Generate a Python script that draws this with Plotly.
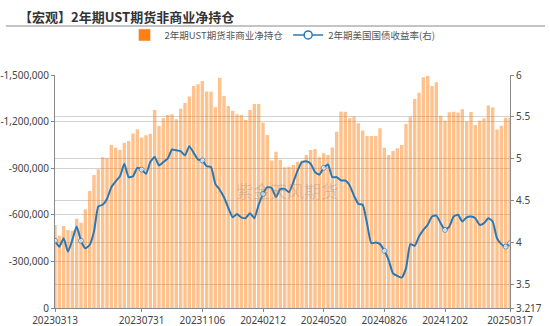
import pandas as pd
import plotly.graph_objects as go

# weekly report dates (categories)
dates = pd.date_range("2023-03-13", periods=106, freq="7D").strftime("%Y%m%d").tolist()

# 2-year UST futures non-commercial net position (contracts)
net_position = [
    -534000, -466000, -528000, -502000, -498000, -575000, -549000, -635000, -753000, -856000,
    -893000, -970000, -964000, -1049000, -1032000, -1017000, -1064000, -1075000, -1124000, -1150000,
    -1097000, -1112000, -1122000, -1275000, -1172000, -1221000, -1243000, -1247000, -1215000, -1283000,
    -1320000, -1361000, -1429000, -1440000, -1461000, -1393000, -1393000, -1292000, -1483000, -1365000,
    -1300000, -1270000, -1247000, -1243000, -1210000, -1275000, -1313000, -1313000, -1193000, -1114000,
    -949000, -1006000, -955000, -906000, -910000, -921000, -942000, -949000, -985000, -1017000,
    -1024000, -970000, -996000, -985000, -1034000, -1135000, -1264000, -1264000, -1221000, -1232000,
    -1189000, -1142000, -1107000, -1107000, -1107000, -1157000, -1032000, -985000, -1011000, -1028000,
    -1049000, -1185000, -1232000, -1346000, -1386000, -1485000, -1494000, -1429000, -1453000, -1238000,
    -1206000, -1260000, -1264000, -1258000, -1279000, -1200000, -1262000, -1178000, -1206000, -1221000,
    -1303000, -1290000, -1150000, -1174000, -1225000, -1225000,
]

# 2-year US Treasury yield (%)
yield_2y = [
    4.02, 3.95, 4.05, 3.89, 4.03, 4.19, 4.02, 3.93, 3.97, 4.13,
    4.43, 4.45, 4.52, 4.66, 4.73, 4.79, 4.94, 4.78, 4.79, 4.89,
    4.87, 4.82, 4.96, 5.02, 4.92, 4.96, 5.00, 5.11, 5.10, 5.09,
    5.04, 5.15, 5.07, 4.99, 4.98, 4.91, 4.90, 4.70, 4.63, 4.54,
    4.41, 4.30, 4.34, 4.30, 4.29, 4.35, 4.29, 4.45, 4.58, 4.66,
    4.65, 4.54, 4.64, 4.64, 4.60, 4.72, 4.86, 4.96, 4.97, 4.94,
    4.84, 4.81, 4.89, 4.93, 4.78, 4.78, 4.74, 4.74, 4.68, 4.56,
    4.46, 4.45, 4.23, 3.99, 4.00, 3.98, 3.90, 3.79, 3.63, 3.60,
    3.58, 3.69, 3.98, 3.96, 4.07, 4.15, 4.21, 4.31, 4.32, 4.23,
    4.15, 4.19, 4.31, 4.33, 4.25, 4.30, 4.31, 4.29, 4.21, 4.23,
    4.29, 4.25, 4.05, 3.98, 3.95, 3.99,
]

x_ticks = ["20230313", "20230731", "20231106", "20240212", "20240520", "20240826", "20241202", "20250317"]
left_ticks = [0, -300000, -600000, -900000, -1200000, -1500000]
left_labels = ["0", "-300,000", "-600,000", "-900,000", "-1,200,000", "-1,500,000"]
right_ticks = [3.217, 3.5, 4, 4.5, 5, 5.5, 6]
right_labels = ["3.217", "3.5", "4", "4.5", "5", "5.5", "6"]
marker_idx = [0, 6, 20, 34, 48, 62, 76, 90, 104, 105]

BAR_NAME = "2年期UST期货非商业净持仓"
LINE_NAME = "2年期美国国债收益率(右)"
FONT = "Noto Sans, Noto Sans CJK SC, sans-serif"
CJK = "Noto Sans CJK SC, sans-serif"
BLUE = "#2a78b6"

fig = go.Figure()
fig.add_trace(go.Bar(
    x=dates, y=net_position, name=BAR_NAME, showlegend=False,
    marker=dict(color="rgba(255,128,16,0.48)", line=dict(width=0)),
    yaxis="y",
))
fig.add_trace(go.Scatter(
    x=dates, y=yield_2y, name=LINE_NAME, yaxis="y2", mode="lines+markers", showlegend=False,
    line=dict(color=BLUE, width=2, shape="spline", smoothing=0.5),
    marker=dict(symbol="circle", color="white",
                size=[5 if i in marker_idx else 0 for i in range(len(dates))],
                line=dict(color=BLUE, width=1)),
))
# legend proxies
fig.add_trace(go.Bar(x=[None], y=[None], name=BAR_NAME, marker=dict(color="#ff8012"), yaxis="y"))
fig.add_trace(go.Scatter(x=[None], y=[None], name=LINE_NAME, yaxis="y2", mode="lines+markers",
                         line=dict(color=BLUE, width=1.5),
                         marker=dict(symbol="circle", color="white", size=8,
                                     line=dict(color=BLUE, width=1.5))))

axis_common = dict(showline=True, linecolor="#888", linewidth=1, ticks="outside", ticklen=3,
                   tickcolor="#888", tickfont=dict(size=10, color="#444"), automargin=False)

fig.update_layout(
    width=550, height=326,
    margin=dict(l=55, r=40, t=75, b=18),
    paper_bgcolor="white", plot_bgcolor="white",
    font=dict(family=FONT, size=10, color="#555"),
    bargap=0.22,
    showlegend=True,
    legend=dict(orientation="h", x=0.5, xanchor="center", y=1.172, yanchor="middle",
                font=dict(family=CJK, size=9.5, color="#555"),
                itemwidth=30, tracegroupgap=0, bgcolor="rgba(0,0,0,0)"),
    xaxis=dict(type="category", range=[0, len(dates) - 1],
               tickmode="array", tickvals=x_ticks, ticktext=x_ticks,
               showgrid=False, tickangle=0, ticklabelstandoff=0, **axis_common),
    yaxis=dict(range=[0, -1500000], tickmode="array", tickvals=left_ticks, ticktext=left_labels,
               showgrid=True, gridcolor="#d2d2d2", gridwidth=1, zeroline=False, **axis_common),
    yaxis2=dict(range=[3.217, 6], overlaying="y", side="right",
                tickmode="array", tickvals=right_ticks, ticktext=right_labels,
                showgrid=True, gridcolor="#d2d2d2", gridwidth=1, zeroline=False, **axis_common),
    shapes=[dict(type="line", xref="paper", yref="paper",
                 x0=-0.108, x1=1.077, y0=1.21, y1=1.21,
                 line=dict(color="#b0b0b0", width=1.5))],
    annotations=[
        dict(text="【宏观】2年期UST期货非商业净持仓", xref="paper", yref="paper",
             x=-0.0835, y=1.253, xanchor="left", yanchor="middle", showarrow=False,
             font=dict(family=CJK, size=13, color="#333", weight="bold")),
        dict(text="紫金天风期货", xref="paper", yref="paper", x=0.51, y=0.506,
             xanchor="center", yanchor="middle", showarrow=False,
             font=dict(family=CJK, size=17, color="rgba(140,140,140,0.35)")),
    ],
)

fig.write_html("out.html")
